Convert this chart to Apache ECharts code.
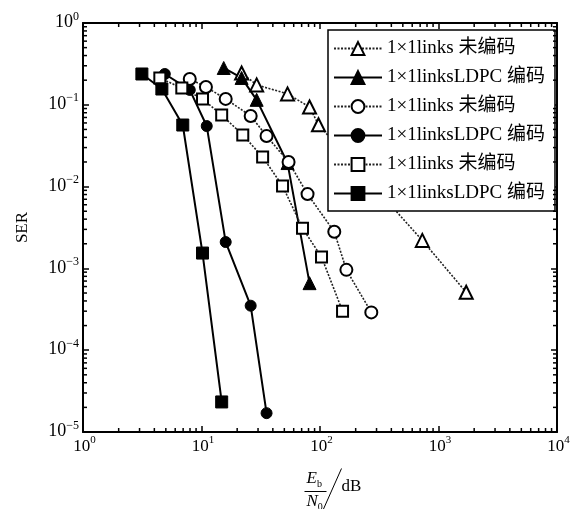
<!DOCTYPE html>
<html><head><meta charset="utf-8">
<script src="https://cdn.jsdelivr.net/npm/echarts@6/dist/echarts.min.js"></script>
<style>html,body{margin:0;padding:0;background:#fff}#c{width:574px;height:509px}</style>
</head><body><div id="c"></div>
<script>
const legendLabels = ['1×1links 未编码','1×1linksLDPC 编码','1×1links 未编码','1×1linksLDPC 编码','1×1links 未编码','1×1linksLDPC 编码'];
const xHollowTri = [21.8, 29.2, 53.2, 81.6, 97.1, 730, 1713];
const yHollowTri = [0.245, 0.175, 0.136, 0.094, 0.057, 2.2e-3, 5.1e-4];
const xFilledTri = [15.4, 21.8, 29.2, 53.2, 81.6];
const yFilledTri = [0.282, 0.213, 0.115, 0.0194, 6.6e-4];
const xHollowCir = [7.96, 10.9, 16.0, 26.0, 35.4, 54.3, 78.5, 132, 167, 271];
const yHollowCir = [0.207, 0.165, 0.118, 0.073, 0.0416, 0.020, 8.1e-3, 2.8e-3, 9.6e-4, 2.9e-4];
const xFilledCir = [4.9, 7.96, 11.07, 16.0, 26.0, 35.4];
const yFilledCir = [0.238, 0.152, 0.055, 2.1e-3, 3.5e-4, 1.7e-5];
const xHollowSq = [4.45, 6.82, 10.2, 14.8, 22.3, 32.8, 48.3, 71.2, 103, 155];
const yHollowSq = [0.213, 0.160, 0.118, 0.075, 0.0428, 0.023, 0.0102, 3.1e-3, 1.38e-3, 3.0e-4];
const xFilledSq = [3.14, 4.63, 6.95, 10.2, 14.8];
const yFilledSq = [0.238, 0.156, 0.0566, 1.54e-3, 2.33e-5];

const xMin = 1, xMax = 1e4, yMin = 1e-5, yMax = 1;
const FONT = "'Liberation Serif','Noto Sans CJK SC',serif";

function pairs(xs, ys){ return xs.map((x,i)=>[x, ys[i]]); }

// minor tick values (2..9 x 10^k)
const minorX = [], minorY = [];
for (let k=0;k<4;k++) for (let m=2;m<=9;m++) minorX.push([m*Math.pow(10,k), yMin, 0]);
for (let k=-5;k<0;k++) for (let m=2;m<=9;m++) minorY.push([xMin, m*Math.pow(10,k), 1]);

function expLabel(v){
  const e = Math.round(Math.log10(v));
  return '{b|10}{e|' + (e<0 ? '\u2212' + (-e) : e) + '}';
}
const richY = {
  b:{fontFamily:FONT,fontSize:18,color:'#000',verticalAlign:'bottom'},
  e:{fontFamily:FONT,fontSize:12,color:'#000',verticalAlign:'bottom',padding:[0,0,9,0]}
};
const richX = {
  b:{fontFamily:FONT,fontSize:17,color:'#000',verticalAlign:'bottom'},
  e:{fontFamily:FONT,fontSize:11,color:'#000',verticalAlign:'bottom',padding:[0,0,9,0]}
};

const hollow = {color:'#fff', borderColor:'#000', borderWidth:2};
const filled = {color:'#000', borderColor:'#000', borderWidth:1};
const dotLine = {color:'#222', width:1.6, type:[2,1.5]};
const solidLine = {color:'#000', width:2};

const names = ['s1','s2','s3','s4','s5','s6'];
const series = [
  {name:names[0], type:'line', data:pairs(xHollowTri,yHollowTri), symbol:'triangle', symbolSize:13, itemStyle:hollow, lineStyle:dotLine},
  {name:names[1], type:'line', data:pairs(xFilledTri,yFilledTri), symbol:'triangle', symbolSize:13, itemStyle:filled, lineStyle:solidLine},
  {name:names[2], type:'line', data:pairs(xHollowCir,yHollowCir), symbol:'circle', symbolSize:12, itemStyle:hollow, lineStyle:dotLine},
  {name:names[3], type:'line', data:pairs(xFilledCir,yFilledCir), symbol:'circle', symbolSize:11, itemStyle:filled, lineStyle:solidLine},
  {name:names[4], type:'line', data:pairs(xHollowSq,yHollowSq), symbol:'rect', symbolSize:11, itemStyle:hollow, lineStyle:dotLine},
  {name:names[5], type:'line', data:pairs(xFilledSq,yFilledSq), symbol:'rect', symbolSize:12, itemStyle:filled, lineStyle:solidLine},
  {type:'custom', data:minorX.concat(minorY), clip:false, silent:true, z:10,
   renderItem:function(params, api){
     const kind = api.value(2);
     const L = 4;
     if (kind === 0) {
       const v = api.value(0);
       const b = api.coord([v, yMin]), t = api.coord([v, yMax]);
       return {type:'group', children:[
         {type:'line', shape:{x1:b[0],y1:b[1],x2:b[0],y2:b[1]-L}, style:{stroke:'#000',lineWidth:1.5}},
         {type:'line', shape:{x1:t[0],y1:t[1],x2:t[0],y2:t[1]+L}, style:{stroke:'#000',lineWidth:1.5}}
       ]};
     } else {
       const v = api.value(1);
       const l = api.coord([xMin, v]), r = api.coord([xMax, v]);
       return {type:'group', children:[
         {type:'line', shape:{x1:l[0],y1:l[1],x2:l[0]+L,y2:l[1]}, style:{stroke:'#000',lineWidth:1.5}},
         {type:'line', shape:{x1:r[0],y1:r[1],x2:r[0]-L,y2:r[1]}, style:{stroke:'#000',lineWidth:1.5}}
       ]};
     }
   }}
];

const axisCommon = {
  axisLine:{show:true, lineStyle:{color:'#000', width:2}},
  axisTick:{show:true, inside:true, length:6, lineStyle:{color:'#000', width:1.5}},
  splitLine:{show:false}
};

const chart = echarts.init(document.getElementById('c'), null, {renderer:'canvas'});
chart.setOption({
  animation:false,
  backgroundColor:'#fff',
  grid:{left:83, right:17, top:23, bottom:77, show:false},
  xAxis:[
    Object.assign({type:'log', logBase:10, min:xMin, max:xMax, interval:1, position:'bottom',
      axisLabel:{show:true, margin:3, formatter:expLabel, rich:richX, padding:[0,0,0,3]}}, axisCommon),
    Object.assign({type:'log', logBase:10, min:xMin, max:xMax, interval:1, position:'top',
      axisLabel:{show:false}}, axisCommon)
  ],
  yAxis:[
    Object.assign({type:'log', logBase:10, min:yMin, max:yMax, interval:1, position:'left',
      axisLabel:{show:true, margin:4, formatter:expLabel, rich:richY, padding:[0,0,4,0]},
      name:'SER', nameLocation:'middle', nameGap:52, nameRotate:90,
      nameTextStyle:{fontFamily:FONT, fontSize:17, color:'#000'}}, axisCommon),
    Object.assign({type:'log', logBase:10, min:yMin, max:yMax, interval:1, position:'right',
      axisLabel:{show:false}}, axisCommon)
  ],
  legend:{
    show:true, orient:'vertical', left:328, top:30,
    data:names, formatter:function(n){ return legendLabels[names.indexOf(n)]; },
    itemWidth:48, itemHeight:16, itemGap:10,
    padding:[9,10,8,5],
    backgroundColor:'#fff', borderColor:'#000', borderWidth:1.5, borderRadius:0,
    textStyle:{fontFamily:FONT, fontSize:19, lineHeight:19, color:'#000'},
    selectedMode:false
  },
  series:series,
  graphic:[
    {type:'group', left:302, top:466, children:[
      {type:'text', x:2, y:0, style:{text:'{i|E}{s|b}', rich:{i:{fontFamily:FONT,fontStyle:'italic',fontSize:17,verticalAlign:'bottom'}, s:{fontFamily:FONT,fontSize:10,verticalAlign:'bottom',padding:[0,0,-2,0]}}, fill:'#000'}},
      {type:'line', shape:{x1:0,y1:21,x2:22,y2:21}, style:{stroke:'#000', lineWidth:1}},
      {type:'text', x:2, y:23, style:{text:'{i|N}{s|0}', rich:{i:{fontFamily:FONT,fontStyle:'italic',fontSize:17,verticalAlign:'bottom'}, s:{fontFamily:FONT,fontSize:10,verticalAlign:'bottom',padding:[0,0,-2,0]}}, fill:'#000'}},
      {type:'line', shape:{x1:37,y1:-2,x2:17,y2:43}, style:{stroke:'#000', lineWidth:1}},
      {type:'text', x:37, y:8, style:{text:'dB', fontFamily:FONT, fontSize:17, fill:'#000'}}
    ]}
  ]
});
</script></body></html>
